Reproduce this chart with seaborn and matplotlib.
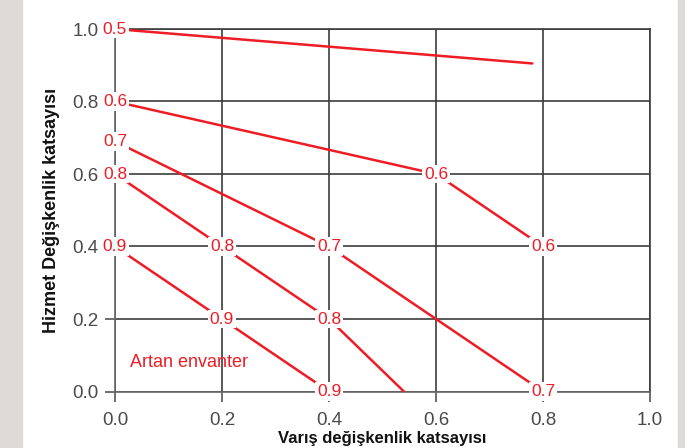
import matplotlib
matplotlib.use("Agg")
import matplotlib.pyplot as plt
import seaborn as sns
import pandas as pd
from matplotlib.patches import Rectangle

# contour lines (level -> polyline points)
levels = ["0.5", "0.6", "0.7", "0.8", "0.9"]
x_05 = [0.0, 0.78]
y_05 = [1.0, 0.905]
x_06 = [0.0, 0.6, 0.8]
y_06 = [0.8, 0.6, 0.4]
x_07 = [0.0, 0.4, 0.8]
y_07 = [0.69, 0.4, 0.0]
x_08 = [0.0, 0.2, 0.4, 0.54]
y_08 = [0.6, 0.4, 0.2, 0.0]
x_09 = [0.0, 0.2, 0.4]
y_09 = [0.4, 0.2, 0.0]

# inline contour labels
label_x = [0.0, 0.0, 0.6, 0.8, 0.0, 0.4, 0.8, 0.0, 0.2, 0.4, 0.0, 0.2, 0.4]
label_y = [1.0, 0.8, 0.6, 0.4, 0.69, 0.4, 0.0, 0.6, 0.4, 0.2, 0.4, 0.2, 0.0]
label_txt = ["0.5", "0.6", "0.6", "0.6", "0.7", "0.7", "0.7", "0.8", "0.8", "0.8", "0.9", "0.9", "0.9"]

ticks = [0.0, 0.2, 0.4, 0.6, 0.8, 1.0]

red = "#ee1c25"
grid_c = "#3c3c3c"

sns.set_style("white")
plt.rcParams["font.family"] = ["Liberation Sans", "DejaVu Sans"]

rows = []
for lev, xs, ys in zip(levels, [x_05, x_06, x_07, x_08, x_09], [y_05, y_06, y_07, y_08, y_09]):
    for i, (a, b) in enumerate(zip(xs, ys)):
        rows.append({"level": lev, "x": a, "y": b, "order": i})
df = pd.DataFrame(rows)

fig = plt.figure(figsize=(6.85, 4.48), dpi=100)
fig.patches.append(Rectangle((0, 0), 22 / 685, 1, transform=fig.transFigure, color="#dedad7", zorder=-1))
fig.patches.append(Rectangle((678 / 685, 0), 7 / 685, 1, transform=fig.transFigure, color="#dedad7", zorder=-1))
ax = fig.add_axes([115 / 685, 1 - 391.5 / 448, 535 / 685, 362.5 / 448])

sns.lineplot(data=df, x="x", y="y", hue="level", palette=[red] * len(levels),
             sort=False, estimator=None, units="level", legend=False, lw=1.8, ax=ax, zorder=3)

for tx, ty, t in zip(label_x, label_y, label_txt):
    ax.text(tx, ty, t, color=red, fontsize=12.5, ha="center", va="center",
            zorder=5, bbox=dict(boxstyle="square,pad=0.1", fc="white", ec="none"), clip_on=False)

ax.text(0.028, 0.08, "Artan envanter", color=red, fontsize=13, ha="left", va="center")

ax.set_xlim(0, 1)
ax.set_ylim(0, 1)
ax.set_xticks(ticks)
ax.set_yticks(ticks)
ax.set_xticklabels([f"{t:.1f}" for t in ticks])
ax.set_yticklabels([f"{t:.1f}" for t in ticks])
ax.grid(True, color=grid_c, lw=1.2)
ax.set_axisbelow(True)
for s in ax.spines.values():
    s.set_color(grid_c)
    s.set_linewidth(1.2)
ax.spines["left"].set_color("#666666")
ax.spines["bottom"].set_color("#666666")
ax.tick_params(axis="both", direction="out", length=7, width=1.2, color="#555555",
               labelsize=13.5, labelcolor="#4a4a4a", left=True, bottom=True)
ax.tick_params(axis="y", pad=5)
ax.tick_params(axis="x", pad=8)

ax.set_ylabel("Hizmet Değişkenlik katsayısı", fontsize=13, fontweight="bold", color="#111111", labelpad=9)
ax.set_xlabel("Varış değişkenlik katsayısı", fontsize=12, fontweight="bold", color="#111111", labelpad=1)

fig.savefig("out.png", dpi=100)
